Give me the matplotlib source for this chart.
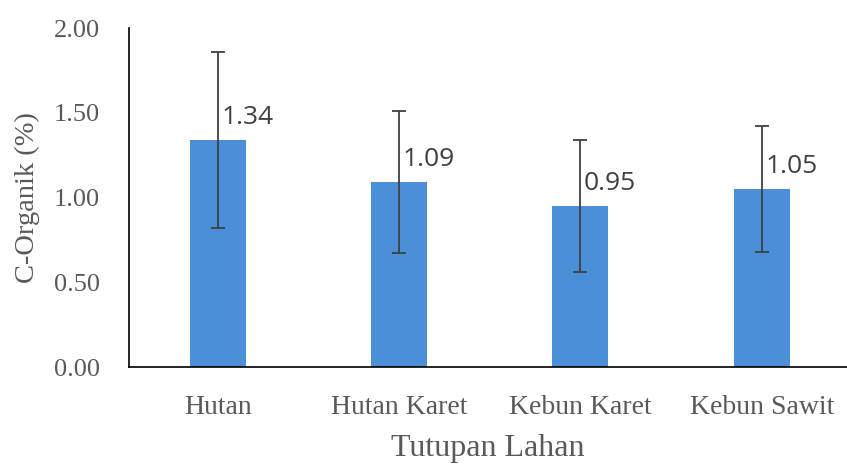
import numpy as np
import matplotlib
matplotlib.use("Agg")
from matplotlib import pyplot as plt

# data
categories = ["Hutan", "Hutan Karet", "Kebun Karet", "Kebun Sawit"]
c_organik = [1.34, 1.09, 0.95, 1.05]
std_err = [0.52, 0.42, 0.39, 0.37]
yticks = [0.0, 0.5, 1.0, 1.5, 2.0]

fig = plt.figure(figsize=(8.47, 4.67), dpi=100)
ax = fig.add_axes([0.152, 0.214, 0.848, 0.726])

x = np.arange(len(categories))
ax.bar(x, c_organik, width=0.31, color="#4a8fd8", zorder=2)
ax.errorbar(x, c_organik, yerr=std_err, fmt="none", ecolor="#404040",
            elinewidth=1.3, capsize=5, capthick=1.3, zorder=3)

for xi, v in zip(x, c_organik):
    ax.text(xi + 0.02, v + 0.135, f"{v:.2f}", ha="left", va="center",
            fontsize=19, color="#404040", family="Open Sans")

ax.set_xlim(-0.49, 3.47)
ax.set_ylim(0, 2.0)
ax.set_yticks(yticks)
ax.set_yticklabels([f"{t:.2f}" for t in yticks])
ax.set_xticks(x)
ax.set_xticklabels(categories)
ax.tick_params(length=0, labelsize=19, labelcolor="#595959")
ax.tick_params(axis="x", labelsize=20, pad=20)
ax.tick_params(axis="y", pad=21)
for lbl in ax.get_xticklabels() + ax.get_yticklabels():
    lbl.set_family("Liberation Serif")

ax.set_ylabel("C-Organik (%)", fontsize=20.5, color="#595959",
              family="Liberation Serif", labelpad=10)
ax.set_xlabel("Tutupan Lahan", fontsize=23, color="#595959",
              family="Liberation Serif", labelpad=10)

ax.spines["top"].set_visible(False)
ax.spines["right"].set_visible(False)
ax.spines["left"].set_color("black")
ax.spines["bottom"].set_color("black")
ax.spines["left"].set_linewidth(1.2)
ax.spines["bottom"].set_linewidth(1.2)

fig.savefig("out.png", dpi=100)
